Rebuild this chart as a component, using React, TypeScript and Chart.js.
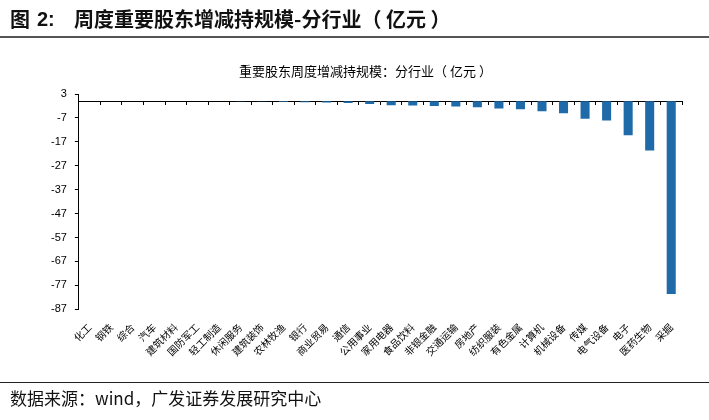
import React, { useEffect, useRef } from "react";
import { Chart, registerables } from "chart.js";

Chart.register(...registerables);

const categories = [
  "化工", "钢铁", "综合", "汽车", "建筑材料", "国防军工", "轻工制造", "休闲服务",
  "建筑装饰", "农林牧渔", "银行", "商业贸易", "通信", "公用事业", "家用电器", "食品饮料",
  "非银金融", "交通运输", "房地产", "纺织服装", "有色金属", "计算机", "机械设备", "传媒",
  "电气设备", "电子", "医药生物", "采掘",
];
const values = [
  0, -0.01, -0.02, -0.03, -0.05, -0.06, -0.08, -0.1,
  -0.15, -0.3, -0.5, -0.6, -0.8, -1.2, -1.7, -1.8,
  -2.0, -2.2, -2.5, -3.1, -3.4, -4.2, -5.1, -7.3,
  -8.1, -14.3, -20.6, -80.6,
];
const yTicks = [3, -7, -17, -27, -37, -47, -57, -67, -77, -87];

const headerLabel = "图";
const headerNum = "2:";
const headerText = "周度重要股东增减持规模-分行业（ 亿元 ）";
const chartTitle = "重要股东周度增减持规模：分行业（ 亿元 ）";
const sourceText = "数据来源：wind，广发证券发展研究中心";

const CJK = '"Noto Sans CJK SC", "Liberation Sans", sans-serif';
const LATIN = '"Liberation Sans", Arial, sans-serif';

export default function App() {
  const ref = useRef<HTMLCanvasElement | null>(null);

  useEffect(() => {
    document.body.style.margin = "0";
    const ctx = ref.current!.getContext("2d")!;
    const chart = new Chart(ctx, {
      type: "bar",
      data: {
        labels: categories,
        datasets: [
          {
            data: values,
            backgroundColor: "#1f6aa8",
            borderWidth: 0,
            categoryPercentage: 1,
            barPercentage: 0.42,
          },
        ],
      },
      options: {
        animation: false,
        responsive: false,
        devicePixelRatio: 1,
        layout: { padding: { left: 43, right: 27, top: 94, bottom: 50 } },
        plugins: { legend: { display: false }, tooltip: { enabled: false }, title: { display: false } },
        scales: {
          x: {
            type: "category",
            offset: true,
            border: { display: false },
            grid: { display: false, drawTicks: false, offset: true },
            ticks: {
              minRotation: 45,
              maxRotation: 45,
              autoSkip: false,
              padding: 12,
              color: "#000",
              font: { family: CJK, size: 10 },
            },
          },
          x2: {
            type: "category",
            axis: "x",
            position: { y: 0 },
            offset: true,
            z: 1,
            border: { display: true, color: "#000", width: 1 },
            grid: { display: true, drawOnChartArea: false, drawTicks: true, tickLength: 3, color: "#000", offset: true },
            ticks: { display: false },
          },
          y: {
            type: "linear",
            min: -87,
            max: 3,
            afterBuildTicks: (scale: any) => {
              scale.ticks = yTicks.map((v) => ({ value: v }));
            },
            border: { display: true, color: "#000", width: 1 },
            grid: { display: true, drawOnChartArea: false, drawTicks: true, tickLength: 4, color: "#000" },
            ticks: {
              padding: 8,
              color: "#000",
              font: { family: LATIN, size: 11 },
            },
          },
        } as any,
      },
    });
    return () => chart.destroy();
  }, []);

  return (
    <div style={{ position: "relative", width: 709, height: 420, background: "#fff", overflow: "hidden" }}>
      <canvas ref={ref} width={709} height={420} style={{ position: "absolute", left: 0, top: 0, width: 709, height: 420 }} />
      <div style={{ position: "absolute", left: 10, top: 7, fontFamily: CJK, fontWeight: 700, fontSize: 20, lineHeight: "24px", color: "#111" }}>{headerLabel}</div>
      <div style={{ position: "absolute", left: 37, top: 7, fontFamily: LATIN, fontWeight: 700, fontSize: 20, lineHeight: "24px", color: "#111" }}>{headerNum}</div>
      <div style={{ position: "absolute", left: 74, top: 7, fontFamily: CJK, fontWeight: 700, fontSize: 20, lineHeight: "24px", color: "#111", whiteSpace: "pre" }}>{headerText}</div>
      <div style={{ position: "absolute", left: 0, top: 36, width: 709, height: 2, background: "#555" }} />
      <div style={{ position: "absolute", left: 0, width: 709, top: 63, textAlign: "center", paddingLeft: 22, boxSizing: "border-box", fontFamily: CJK, fontSize: 13, lineHeight: "16px", color: "#000", whiteSpace: "pre" }}>{chartTitle}</div>
      <div style={{ position: "absolute", left: 0, top: 382, width: 709, height: 1, background: "#222" }} />
      <div style={{ position: "absolute", left: 10, top: 387, fontFamily: CJK, fontSize: 17, lineHeight: "22px", color: "#111", whiteSpace: "nowrap" }}>{sourceText}</div>
    </div>
  );
}
